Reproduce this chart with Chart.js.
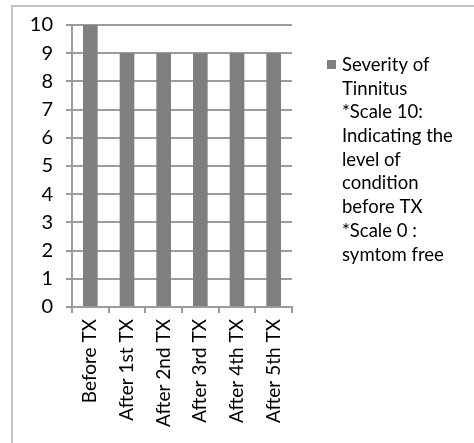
<!DOCTYPE html>
<html>
<head>
<meta charset="utf-8">
<script src="https://cdn.jsdelivr.net/npm/chart.js@4/dist/chart.umd.min.js"></script>
<style>
  html, body { margin: 0; padding: 0; background: #fff; overflow: hidden; width: 474px; height: 443px; }
  #frame { position: absolute; left: 11px; top: 5px; width: 600px; height: 600px; border: 2px solid #c4c4c4; box-sizing: border-box; }
  #c { position: absolute; left: 0; top: 0; }
</style>
</head>
<body>
<div id="frame"></div>
<canvas id="c" width="474" height="443"></canvas>
<script>
const categories = ['Before TX', 'After 1st TX', 'After 2nd TX', 'After 3rd TX', 'After 4th TX', 'After 5th TX'];
const severity = [10, 9, 9, 9, 9, 9];
const yTicks = [0, 1, 2, 3, 4, 5, 6, 7, 8, 9, 10];
const legendLines = ['Severity of', 'Tinnitus', '*Scale 10:', 'Indicating the', 'level of', 'condition', 'before TX', '*Scale 0 :', 'symtom free'];

const FONT = 'Lato, "Open Sans", sans-serif';
const BAR = '#7f7f7f';
const GRID = '#9c9c9c';

const legendPlugin = {
  id: 'sideLegend',
  afterDraw(chart) {
    const ctx = chart.ctx;
    const ds = chart.data.datasets[0];
    ctx.save();
    ctx.fillStyle = ds.backgroundColor;
    ctx.fillRect(327, 60, 9, 9);
    ctx.fillStyle = '#000';
    ctx.font = '18.5px ' + FONT;
    ctx.textBaseline = 'middle';
    ctx.textAlign = 'left';
    ds.legendLines.forEach((line, i) => {
      ctx.fillText(line, 342, 65 + i * 23.7);
    });
    ctx.restore();
  }
};

new Chart(document.getElementById('c'), {
  type: 'bar',
  data: {
    labels: categories,
    datasets: [{
      label: legendLines.join(' '),
      legendLines: legendLines,
      data: severity,
      backgroundColor: BAR,
      borderWidth: 0,
      barPercentage: 0.4,
      categoryPercentage: 1.0
    }]
  },
  options: {
    responsive: false,
    animation: false,
    events: [],
    layout: { padding: { left: 0, top: 24, right: 182, bottom: 0 } },
    plugins: { legend: { display: false }, tooltip: { enabled: false } },
    scales: {
      x: {
        afterFit: s => { s.height = 136; },
        grid: { display: true, drawOnChartArea: false, drawTicks: true, tickLength: 6, color: GRID, lineWidth: 2, offset: true },
        border: { display: true, color: GRID, width: 2 },
        ticks: { minRotation: 90, maxRotation: 90, autoSkip: false, padding: 6, color: '#000', font: { family: FONT, size: 19 } }
      },
      y: {
        min: 0, max: 10,
        afterFit: s => { s.width = 72; },
        afterBuildTicks: s => { s.ticks = yTicks.map(v => ({ value: v })); },
        grid: { display: true, drawOnChartArea: true, drawTicks: true, tickLength: 6, color: GRID, lineWidth: 2 },
        border: { display: true, color: GRID, width: 2 },
        ticks: { stepSize: 1, padding: 13, color: '#000', font: { family: FONT, size: 20 } }
      }
    }
  },
  plugins: [legendPlugin]
});
</script>
</body>
</html>
